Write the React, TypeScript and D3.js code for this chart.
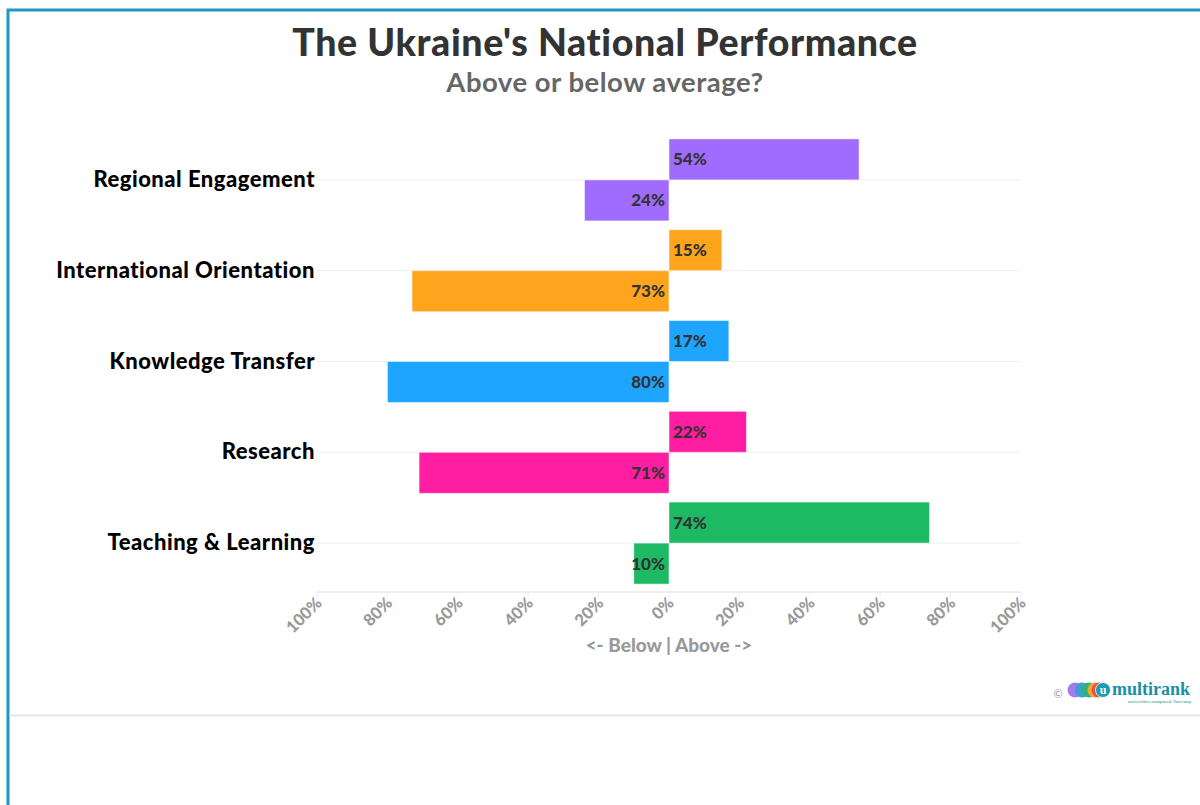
import React from "react";
import * as d3 from "d3";

const categories = ["Regional Engagement", "International Orientation", "Knowledge Transfer", "Research", "Teaching & Learning"];
const aboveValues = [54, 15, 17, 22, 74];
const belowValues = [24, 73, 80, 71, 10];
const colors = ["#A06BFF", "#FFA41D", "#1DA5FF", "#FF1DA2", "#1DB963"];
const tickValues = [-100, -80, -60, -40, -20, 0, 20, 40, 60, 80, 100];
const title = "The Ukraine's National Performance";
const subtitle = "Above or below average?";
const axisTitle = "<- Below | Above ->";

const W = 1200, H = 805;
const FONT = "Lato, 'Open Sans', sans-serif";

export default function App() {
  const x = d3.scaleLinear().domain([-100, 100]).range([317, 1021]);
  const y = d3.scaleBand<string>().domain(categories).range([134.5, 588.5]).paddingInner(0).paddingOuter(0);
  const step = y.step();
  const barH = 41;
  return (
    <svg width={W} height={H} style={{ position: "absolute", left: 0, top: 0, background: "#fff" }}>
      <rect x={0} y={0} width={W} height={H} fill="#fff" />
      <rect x={8} y={10} width={W + 20} height={H + 20} fill="none" stroke="#2196BE" strokeWidth={3} />
      <line x1={9.5} x2={W} y1={715.5} y2={715.5} stroke="#e6e6e6" strokeWidth={2} />
      <text x={605} y={56} textAnchor="middle" fontFamily={FONT} fontWeight={900} fontSize={37.5} letterSpacing={0.6} fill="#333">{title}</text>
      <text x={605} y={92} textAnchor="middle" fontFamily={FONT} fontWeight={700} fontSize={27.5} letterSpacing={0.5} fill="#666">{subtitle}</text>
      {categories.map((c) => {
        const cy = (y(c) as number) + step / 2;
        return <line key={"g" + c} x1={x(-100)} x2={x(100)} y1={cy} y2={cy} stroke="#eeeeee" strokeWidth={1} />;
      })}
      <line x1={x(-100)} x2={x(100)} y1={592} y2={592} stroke="#eeeeee" strokeWidth={2} />
      {tickValues.map((t) => (
        <line key={"t" + t} x1={x(t)} x2={x(t)} y1={592} y2={597} stroke="#eeeeee" strokeWidth={1} />
      ))}
      {categories.map((c, i) => {
        const cy = (y(c) as number) + step / 2;
        const a = aboveValues[i], b = belowValues[i];
        return (
          <g key={c}>
            <rect x={x(0)} y={cy - barH} width={x(a) - x(0)} height={barH} fill={colors[i]} stroke="rgba(255,255,255,0.5)" strokeWidth={1} />
            <rect x={x(-b)} y={cy} width={x(0) - x(-b)} height={barH} fill={colors[i]} stroke="rgba(255,255,255,0.5)" strokeWidth={1} />
            <text x={x(0) + 4} y={cy - barH / 2 + 6} fontFamily={FONT} fontWeight={900} fontSize={17} fill="#333">{a}%</text>
            <text x={x(0) - 4} y={cy + barH / 2 + 6} textAnchor="end" fontFamily={FONT} fontWeight={900} fontSize={17} fill="#333">{b}%</text>
            <text x={315} y={cy + 7} textAnchor="end" fontFamily={FONT} fontWeight={900} fontSize={22} letterSpacing={0.5} fill="#000">{c}</text>
          </g>
        );
      })}
      {tickValues.map((t) => (
        <text key={"l" + t} transform={`translate(${x(t) + 6},${604}) rotate(-45)`} textAnchor="end" fontFamily={FONT} fontWeight={900} fontSize={16.5} fill="#999">{Math.abs(t)}%</text>
      ))}
      <text x={x(0)} y={652} textAnchor="middle" fontFamily={FONT} fontWeight={900} fontSize={19} fill="#999">{axisTitle}</text>
      <g>
        <text x={1058} y={698} textAnchor="middle" fontFamily={FONT} fontSize={11} fill="#999">©</text>
        <circle cx={1075} cy={690} r={7.5} fill="#A77BEA" />
        <circle cx={1082} cy={690} r={7.5} fill="#3C9FD8" />
        <circle cx={1089} cy={690} r={7.5} fill="#2DB37A" />
        <circle cx={1095} cy={690} r={7.5} fill="#F5A431" />
        <circle cx={1099} cy={690} r={7.5} fill="#E8504A" />
        <circle cx={1103} cy={690} r={7.5} fill="#1A9CB5" stroke="#fff" strokeWidth={0.8} />
        <text x={1103} y={694} textAnchor="middle" fontFamily="'Liberation Serif', serif" fontWeight={700} fontSize={12} fill="#fff">u</text>
        <text x={1112} y={695} fontFamily="'Liberation Serif', serif" fontWeight={700} fontSize={18} fill="#1A8FA8">multirank</text>
        <text x={1192} y={703} textAnchor="end" fontFamily={FONT} fontSize={4.5} fill="#1A8FA8">universities compared. Your way.</text>
      </g>
    </svg>
  );
}
